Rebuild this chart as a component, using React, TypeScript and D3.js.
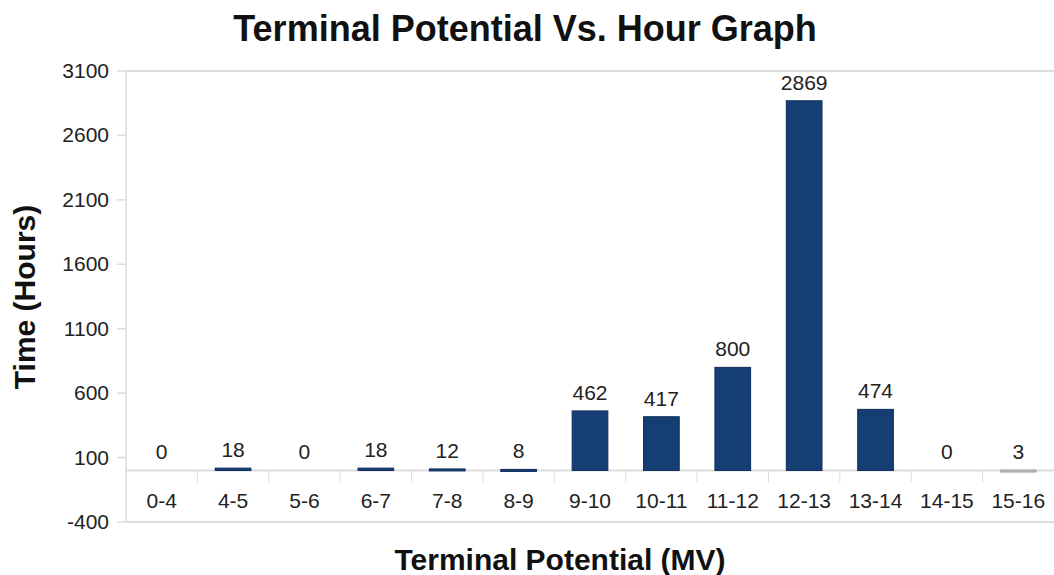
import React from 'react';
import * as d3 from 'd3';

const categories = ['0-4', '4-5', '5-6', '6-7', '7-8', '8-9', '9-10', '10-11', '11-12', '12-13', '13-14', '14-15', '15-16'];
const hours = [0, 18, 0, 18, 12, 8, 462, 417, 800, 2869, 474, 0, 3];
const yTicks = [-400, 100, 600, 1100, 1600, 2100, 2600, 3100];

const W = 1054;
const H = 575;
const margin = { top: 71, right: 0, bottom: 53, left: 126 };
const font = 'Liberation Sans, Arial, sans-serif';

export default function App() {
  const x = d3.scaleBand()
    .domain(categories)
    .range([margin.left, W - margin.right])
    .paddingInner(0.5)
    .paddingOuter(0.25);
  const band = d3.scaleBand().domain(categories).range([margin.left, W - margin.right]);
  const y = d3.scaleLinear().domain([-400, 3100]).range([H - margin.bottom, margin.top]);
  const y0 = y(0);

  return (
    <svg width={W} height={H} style={{ position: 'absolute', left: 0, top: 0, background: '#fff' }}>
      {/* frame lines */}
      <line x1={margin.left} x2={W} y1={y(3100)} y2={y(3100)} stroke="#dcdcdc" strokeWidth={2} />
      <line x1={margin.left} x2={W} y1={y(-400)} y2={y(-400)} stroke="#dcdcdc" strokeWidth={2} />
      <line x1={margin.left} x2={margin.left} y1={y(3100)} y2={y(-400)} stroke="#dcdcdc" strokeWidth={1.5} />
      <line x1={margin.left} x2={W} y1={y0} y2={y0} stroke="#dcdcdc" strokeWidth={2} />
      {categories.slice(1).map(c => (
        <line key={c} x1={band(c)} x2={band(c)} y1={y0} y2={y0 + 12} stroke="#dcdcdc" strokeWidth={1} />
      ))}
      {yTicks.map(t => (
        <g key={t}>
          <line x1={margin.left - 9} x2={margin.left} y1={y(t)} y2={y(t)} stroke="#dcdcdc" strokeWidth={1.5} />
          <text x={margin.left - 17} y={y(t) + 7} textAnchor="end" fontFamily={font} fontSize={21} fill="#222">{t}</text>
        </g>
      ))}
      {categories.map((c, i) => {
        const v = hours[i];
        const top = y(v);
        const cx = (x(c) || 0) + x.bandwidth() / 2;
        return (
          <g key={c}>
            {v > 0 && (
              <rect x={x(c)} y={top} width={x.bandwidth()} height={Math.max(y0 - top, 2)}
                fill={c === '15-16' ? '#b5b5b5' : '#153e75'}
                stroke={c === '15-16' ? '#a8a8a8' : '#0e2f5c'} strokeWidth={1} />
            )}
            <text x={cx} y={top - 11} textAnchor="middle" fontFamily={font} fontSize={21} fill="#222">{v}</text>
            <text x={(band(c) || 0) + band.bandwidth() / 2} y={y0 + 38} textAnchor="middle" fontFamily={font} fontSize={21} fill="#222">{c}</text>
          </g>
        );
      })}
      <text x={525} y={41} textAnchor="middle" fontFamily={font} fontSize={36} fontWeight="bold" fill="#111">Terminal Potential Vs. Hour Graph</text>
      <text x={560} y={570} textAnchor="middle" fontFamily={font} fontSize={30} fontWeight="bold" fill="#111">Terminal Potential (MV)</text>
      <text transform={`translate(35,297) rotate(-90)`} textAnchor="middle" fontFamily={font} fontSize={30} fontWeight="bold" fill="#111">Time (Hours)</text>
    </svg>
  );
}
